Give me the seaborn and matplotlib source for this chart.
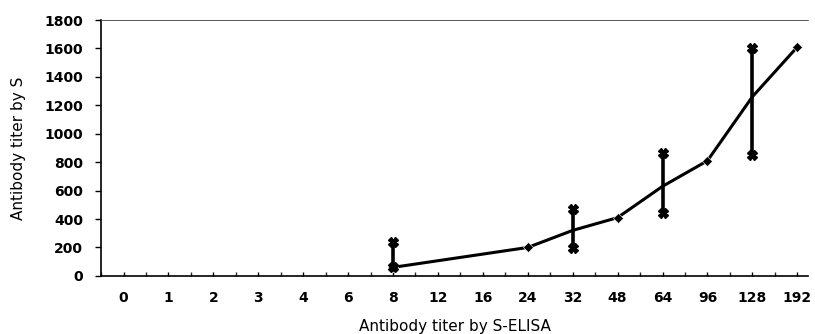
import matplotlib
matplotlib.use("Agg")
import matplotlib.pyplot as plt
import seaborn as sns
import numpy as np
import pandas as pd

categories = ["0", "1", "2", "3", "4", "6", "8", "12", "16", "24", "32", "48", "64", "96", "128", "192"]
line_x = ["8", "24", "32", "48", "64", "96", "128", "192"]
line_y = [60, 200, 320, 410, 630, 810, 1260, 1610]
marker_x = ["8", "24", "48", "96", "192"]
marker_y = [60, 200, 410, 810, 1610]
err_x = ["8", "32", "64", "128"]
err_low = [60, 195, 440, 850]
err_high = [235, 470, 865, 1600]

sns.set_theme(style="ticks")
plt.rcParams["font.family"] = ["DejaVu Sans"]

fig, ax = plt.subplots(figsize=(8.15, 3.34), dpi=100)
fig.subplots_adjust(left=0.124, right=0.992, top=0.94, bottom=0.174)

pos = {c: i for i, c in enumerate(categories)}
df = pd.DataFrame({"x": [pos[c] for c in line_x], "y": line_y})
sns.lineplot(data=df, x="x", y="y", ax=ax, color="black", linewidth=2.2)
dm = pd.DataFrame({"x": [pos[c] for c in marker_x], "y": marker_y})
sns.scatterplot(data=dm, x="x", y="y", ax=ax, color="black", marker="D", s=26, zorder=3)

for c, lo, hi in zip(err_x, err_low, err_high):
    p = pos[c]
    ax.vlines(p, lo, hi, color="black", linewidth=2.6, zorder=3)
    ax.plot([p, p], [lo, hi], linestyle="none", marker="X", markersize=6.5, color="black", zorder=4)

ax.set_xlim(-0.47, 15.25)
ax.set_ylim(0, 1800)
ax.set_yticks(np.arange(0, 1801, 200))
ax.set_xticks(range(len(categories)))
ax.set_xticklabels(categories)
ax.set_xticks(np.arange(-0.5, 15.5, 1.0), minor=True)
ax.tick_params(axis="both", labelsize=10, colors="black", width=1, length=4)
ax.tick_params(axis="y", pad=9)
ax.tick_params(axis="x", which="both", direction="in", length=3)
ax.tick_params(axis="x", pad=11)
for lab in ax.get_xticklabels() + ax.get_yticklabels():
    lab.set_fontweight("bold")
ax.set_xlabel("Antibody titer by S-ELISA", fontsize=11, labelpad=10, color="black")
ax.set_ylabel("Antibody titer by S", fontsize=11, labelpad=13, color="black")

sns.despine(ax=ax, top=False, right=True)
ax.spines["top"].set_linewidth(0.7)
ax.spines["top"].set_color("#555555")
ax.spines["top"].set_linestyle((0, (6, 1)))
ax.spines["left"].set_linewidth(1.2)
ax.spines["bottom"].set_linewidth(1.2)
ax.spines["left"].set_color("black")
ax.spines["bottom"].set_color("black")

fig.savefig("out.png", dpi=100)
